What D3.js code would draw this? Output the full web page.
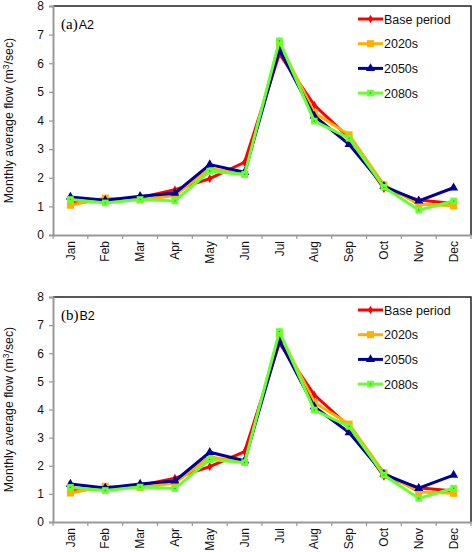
<!DOCTYPE html>
<html><head><meta charset="utf-8">
<script src="https://cdn.jsdelivr.net/npm/d3@7"></script>
<style>body{margin:0;background:#fff}svg{display:block}</style>
</head><body>
<svg id="c" width="472" height="552"></svg>
<script>
const months = ["Jan","Feb","Mar","Apr","May","Jun","Jul","Aug","Sep","Oct","Nov","Dec"];
const yTicks = [0,1,2,3,4,5,6,7,8];
const seriesNames = ["Base period","2020s","2050s","2080s"];
const seriesColors = ["#ff0000","#ffb000","#000099","#66ff33"];
const panelLetters = ["(a)","(b)"];
const panelScenarios = ["A2","B2"];

const a2Base  = [1.15,1.18,1.30,1.58,1.97,2.54,6.33,4.54,3.40,1.62,1.22,1.10];
const a2_2020 = [1.04,1.29,1.22,1.38,2.32,2.12,6.70,4.27,3.50,1.75,1.07,1.02];
const a2_2050 = [1.33,1.21,1.35,1.46,2.46,2.19,6.47,4.16,3.17,1.70,1.19,1.65];
const a2_2080 = [1.24,1.12,1.24,1.19,2.23,2.12,6.78,3.98,3.38,1.67,0.87,1.19];

const b2Base  = [1.15,1.18,1.30,1.56,1.97,2.50,6.36,4.52,3.40,1.62,1.22,1.10];
const b2_2020 = [1.03,1.27,1.22,1.38,2.32,2.12,6.70,4.25,3.48,1.75,1.07,1.02];
const b2_2050 = [1.35,1.21,1.35,1.46,2.48,2.18,6.45,4.10,3.18,1.70,1.20,1.67];
const b2_2080 = [1.23,1.12,1.24,1.19,2.22,2.11,6.77,3.98,3.40,1.67,0.84,1.20];

const panels = [
  {series:[a2Base,a2_2020,a2_2050,a2_2080], top:6, bottom:235},
  {series:[b2Base,b2_2020,b2_2050,b2_2080], top:297, bottom:522}
];

const svg = d3.select("#c");
const left = 53, right = 471;
const font = "'Liberation Sans', Arial, sans-serif";

panels.forEach((p, pi) => {
  const g = svg.append("g");
  const x = d3.scaleBand().domain(months).range([left, right]);
  const y = d3.scaleLinear().domain([0, 8]).range([p.bottom, p.top]);

  g.append("path")
    .attr("d", `M${left},${p.top}H${right}V${p.bottom}`)
    .attr("fill","none").attr("stroke","#222").attr("stroke-width",1.5);

  const ya = g.append("g").attr("transform",`translate(${left},0)`)
    .call(d3.axisLeft(y).tickValues(yTicks).tickSize(4).tickPadding(5).tickFormat(d3.format("d")));
  ya.select(".domain").attr("stroke","#999").attr("stroke-width",2);
  ya.selectAll(".tick line").attr("stroke","#999").attr("stroke-width",1.2);
  ya.selectAll("text").attr("font-family",font).attr("font-size",12).attr("fill","#111");

  const xa = g.append("g").attr("transform",`translate(0,${p.bottom})`)
    .call(d3.axisBottom(x).tickSize(0).tickPadding(0));
  xa.select(".domain").attr("stroke","#999").attr("stroke-width",2);
  xa.selectAll(".tick text")
    .attr("font-family",font).attr("font-size",12).attr("fill","#111")
    .attr("transform","rotate(-90)").attr("text-anchor","end")
    .attr("x",-6).attr("y",0).attr("dy","0.35em");
  const bounds = months.map(m => x(m)).concat([right]);
  g.append("g").selectAll("line").data(bounds).join("line")
    .attr("x1",d=>d).attr("x2",d=>d).attr("y1",p.bottom).attr("y2",p.bottom+4)
    .attr("stroke","#999").attr("stroke-width",1.2);

  const yl = g.append("text")
    .attr("transform",`translate(13,${(p.top+p.bottom)/2}) rotate(-90)`)
    .attr("text-anchor","middle").attr("font-family",font).attr("font-size",12.3).attr("fill","#111");
  yl.append("tspan").text("Monthly average flow (m");
  yl.append("tspan").attr("font-size",8.5).attr("dy",-4).text("3");
  yl.append("tspan").attr("dy",4).text("/sec)");

  const pl = g.append("text").attr("x",61).attr("y",p.top+23);
  pl.append("tspan").attr("font-family","'Liberation Serif','Times New Roman',serif").attr("font-size",15).text(panelLetters[pi]);
  pl.append("tspan").attr("font-family",font).attr("font-size",12.5).attr("dx",1).text(panelScenarios[pi]);

  const cx = m => x(m) + x.bandwidth()/2;
  const line = d3.line().x((d,i)=>cx(months[i])).y(d=>y(d));

  p.series.forEach((vals, si) => {
    const col = seriesColors[si];
    g.append("path").datum(vals).attr("d", line)
      .attr("fill","none").attr("stroke",col).attr("stroke-width",3).attr("stroke-linejoin","miter");
    drawMarkers(g, vals.map((v,i)=>[cx(months[i]), y(v)]), si);
  });

  const lg = g.append("g");
  seriesNames.forEach((nm, si) => {
    const ly = p.top + 13 + si*24.7;
    lg.append("line").attr("x1",358).attr("x2",383).attr("y1",ly).attr("y2",ly)
      .attr("stroke",seriesColors[si]).attr("stroke-width",3);
    drawMarkers(lg, [[370.5, ly]], si);
    lg.append("text").attr("x",384).attr("y",ly).attr("dy","0.36em")
      .attr("font-family",font).attr("font-size",12.5).attr("fill","#111").text(nm);
  });
});

function drawMarkers(g, pts, si) {
  const col = seriesColors[si];
  const sym = [d3.symbolDiamond, d3.symbolSquare, d3.symbolTriangle, d3.symbolSquare][si];
  const size = [22, 50, 36, 45][si];
  g.append("g").selectAll("path").data(pts).join("path")
    .attr("transform", d=>`translate(${d[0]},${d[1]})`)
    .attr("d", d3.symbol().type(sym).size(size))
    .attr("fill", col);
  if (si === 3) {
    g.append("g").selectAll("circle").data(pts).join("circle")
      .attr("cx",d=>d[0]).attr("cy",d=>d[1]).attr("r",0.8).attr("fill","#33aa33");
  }
}
</script>
</body></html>
